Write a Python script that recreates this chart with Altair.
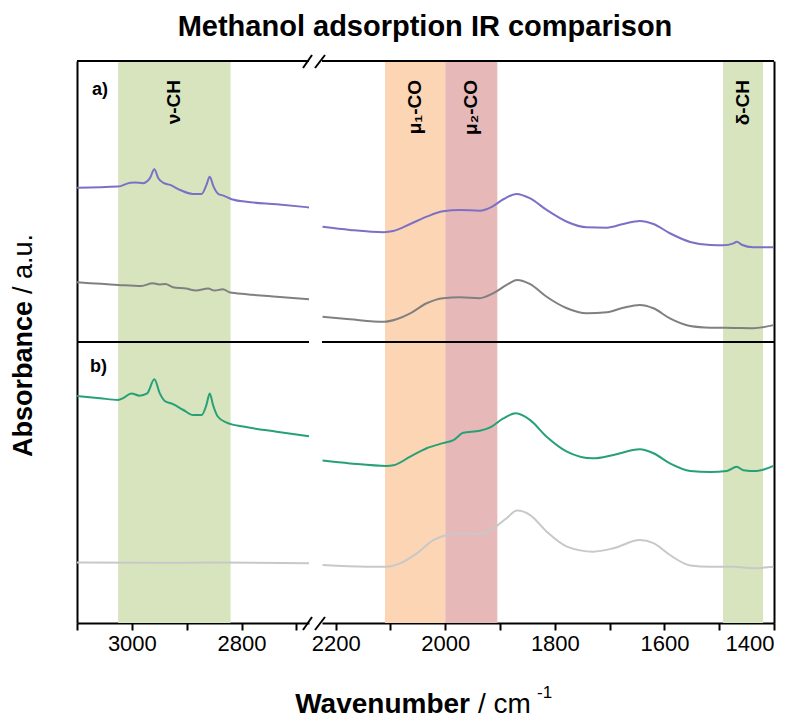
import altair as alt
import pandas as pd

FONT = "Liberation Sans"

# ---------------- data ----------------
left_domain = [2677, 3100]
right_domain = [1400, 2225]
left_ticks = [3100, 3000, 2900, 2800, 2700]
right_ticks = [2200, 2100, 2000, 1900, 1800, 1700, 1600, 1500, 1400]

band_labels = ["ν-CH", "μ₁-CO", "μ₂-CO", "δ-CH"]
band_start = [3025, 2110, 2000, 1493]
band_end = [2820, 2000, 1905, 1420]
band_colors = ["#D7E4BD", "#FCD5B5", "#E6B9B8", "#D7E4BD"]

series_names = ["a_methanol", "a_reference", "b_methanol", "b_reference"]
series_colors = ["#7B70C6", "#808080", "#26A077", "#C8C8C8"]

# panel a, methanol (purple)
a_meth_left_wn = [3100, 3025, 3003, 2994, 2980, 2967, 2959, 2952, 2943, 2930, 2912,
                  2889, 2873, 2864, 2858, 2851, 2842, 2833, 2818, 2791, 2736, 2677]
a_meth_left_val = [.549, .553, .567, .568, .565, .583, .615, .584, .567, .559, .541,
                   .527, .527, .559, .588, .553, .526, .521, .508, .499, .490, .479]
a_meth_right_wn = [2224, 2174, 2112, 2095, 2064, 2034, 2004, 1973, 1937, 1915, 1894,
                   1870, 1845, 1815, 1778, 1742, 1705, 1675, 1645, 1620, 1590, 1553,
                   1516, 1493, 1474, 1468, 1459, 1438, 1401]
a_meth_right_val = [.410, .399, .391, .395, .420, .446, .465, .470, .467, .481, .508,
                    .527, .511, .470, .428, .408, .407, .420, .431, .420, .387, .356,
                    .345, .344, .351, .357, .346, .337, .337]

# panel a, reference (gray)
a_ref_left_wn = [3100, 3025, 2983, 2962, 2950, 2939, 2925, 2901, 2883, 2861, 2849,
                 2834, 2822, 2791, 2736, 2677]
a_ref_left_val = [.2125, .203, .199, .209, .205, .206, .195, .190, .183, .190, .183,
                  .188, .177, .170, .161, .152]
a_ref_right_wn = [2224, 2174, 2112, 2089, 2064, 2034, 2004, 1973, 1937, 1913, 1888,
                  1869, 1845, 1815, 1778, 1742, 1705, 1675, 1645, 1620, 1590, 1553,
                  1516, 1474, 1438, 1401]
a_ref_right_val = [.090, .081, .072, .081, .102, .138, .156, .159, .156, .173, .203,
                   .221, .206, .161, .120, .102, .106, .122, .132, .120, .084, .057,
                   .051, .050, .049, .060]

# panel b, methanol (green)
b_meth_left_wn = [3100, 3058, 3025, 3016, 3001, 2986, 2972, 2959, 2949, 2940, 2925,
                  2906, 2888, 2873, 2864, 2858, 2852, 2843, 2827, 2797, 2736, 2677]
b_meth_left_val = [.808, .800, .794, .800, .817, .809, .817, .867, .817, .790, .779,
                   .758, .740, .740, .776, .817, .776, .734, .713, .699, .681, .665]
b_meth_right_wn = [2224, 2174, 2107, 2095, 2064, 2034, 2004, 1985, 1967, 1937, 1918,
                   1894, 1871, 1845, 1815, 1778, 1730, 1693, 1645, 1620, 1590, 1553,
                   1516, 1486, 1468, 1456, 1432, 1401]
b_meth_right_val = [.578, .568, .559, .561, .592, .622, .640, .651, .677, .684, .696,
                    .728, .746, .722, .663, .610, .586, .598, .618, .604, .568, .541,
                    .537, .541, .556, .544, .541, .559]

# panel b, reference (light gray)
b_ref_left_wn = [3100, 2960, 2850, 2677]
b_ref_left_val = [.215, .214, .215, .213]
b_ref_right_wn = [2224, 2143, 2107, 2083, 2052, 2022, 1997, 1973, 1937, 1912, 1888,
                  1869, 1845, 1815, 1778, 1730, 1693, 1645, 1620, 1590, 1553, 1516,
                  1474, 1438, 1401]
b_ref_right_val = [.206, .200, .200, .212, .248, .295, .313, .319, .317, .337, .373,
                   .400, .384, .325, .272, .254, .266, .295, .284, .242, .205, .200,
                   .200, .195, .200]

# ---------------- tables ----------------
rows = []


def add(name, seg, wn, val, offset):
    for w, v in zip(wn, val):
        rows.append({"wn": w, "absorb": v + offset, "series": name, "seg": seg})


add("a_methanol", "left", a_meth_left_wn, a_meth_left_val, 1.0)
add("a_methanol", "right", a_meth_right_wn, a_meth_right_val, 1.0)
add("a_reference", "left", a_ref_left_wn, a_ref_left_val, 1.0)
add("a_reference", "right", a_ref_right_wn, a_ref_right_val, 1.0)
add("b_methanol", "left", b_meth_left_wn, b_meth_left_val, 0.0)
add("b_methanol", "right", b_meth_right_wn, b_meth_right_val, 0.0)
add("b_reference", "left", b_ref_left_wn, b_ref_left_val, 0.0)
add("b_reference", "right", b_ref_right_wn, b_ref_right_val, 0.0)
spectra = pd.DataFrame(rows)

bands = pd.DataFrame({
    "label": band_labels,
    "start": band_start,
    "end": band_end,
    "color": band_colors,
})
bands["center"] = (bands["start"] + bands["end"]) / 2.0

one = pd.DataFrame({"k": [0]})

H = 562


def x_axis(ticks):
    return alt.Axis(values=ticks, title=None, grid=False,
                    labelExpr="datum.value % 200 === 0 ? format(datum.value, 'd') : ''")


def panel(seg, domain, width, ticks, orient):
    xscale = alt.Scale(domain=domain, reverse=True, nice=False, zero=False)
    yscale = alt.Scale(domain=[0, 2], nice=False, zero=False)
    yaxis = alt.Axis(orient=orient, labels=False, ticks=False, title=None, grid=False)
    if seg == "left":
        bsel = bands[bands["start"] > 2500]
        ssel = spectra[spectra["seg"] == "left"]
    else:
        bsel = bands[bands["start"] < 2500]
        ssel = spectra[spectra["seg"] == "right"]

    rects = alt.Chart(bsel).mark_rect().encode(
        x=alt.X("start:Q", scale=xscale, axis=x_axis(ticks)),
        x2="end:Q",
        color=alt.Color("color:N", scale=None),
    )
    labels = alt.Chart(bsel).mark_text(
        angle=270, align="right", baseline="middle", fontSize=19,
        fontWeight="bold", font=FONT, color="black"
    ).encode(
        x=alt.X("center:Q", scale=xscale, axis=x_axis(ticks)),
        y=alt.value(19),
        text="label:N",
    )
    lines = alt.Chart(ssel).mark_line(strokeWidth=2, interpolate="monotone").encode(
        x=alt.X("wn:Q", scale=xscale, axis=x_axis(ticks)),
        y=alt.Y("absorb:Q", scale=yscale, axis=yaxis),
        color=alt.Color("series:N", scale=alt.Scale(domain=series_names, range=series_colors), legend=None),
        order=alt.Order("wn:Q", sort="descending"),
    )
    divider = alt.Chart(one).mark_rule(color="black", strokeWidth=2).encode(y=alt.datum(1.0))
    top = alt.Chart(one).mark_rule(color="black", strokeWidth=2).encode(y=alt.datum(2.0))
    return alt.layer(rects, labels, lines, divider, top).properties(width=width, height=H)


left = panel("left", left_domain, 232, left_ticks, "left")
right = panel("right", right_domain, 452, right_ticks, "right")

# panel tags
tag_a = alt.Chart(one).mark_text(text="a)", fontSize=18, fontWeight="bold", font=FONT,
                                 align="left", baseline="middle", color="black").encode(
    x=alt.value(15), y=alt.value(29))
tag_b = alt.Chart(one).mark_text(text="b)", fontSize=18, fontWeight="bold", font=FONT,
                                 align="left", baseline="middle", color="black").encode(
    x=alt.value(13), y=alt.value(306))
# y title
ytitle_b = alt.Chart(one).mark_text(text="Absorbance", fontSize=27, fontWeight="bold", font=FONT,
                                    angle=270, align="right", baseline="middle", color="black").encode(
    x=alt.value(-53), y=alt.value(240))
ytitle_r = alt.Chart(one).mark_text(text="/ a.u.", fontSize=27, font=FONT,
                                    angle=270, align="left", baseline="middle", color="black").encode(
    x=alt.value(-53), y=alt.value(233))
left = alt.layer(left, tag_a, tag_b, ytitle_b, ytitle_r)


# break marks, title, x title on right panel
def slash(x1, x2, y1, y2):
    return alt.Chart(one).mark_rule(color="black", strokeWidth=2).encode(
        x=alt.value(x1), x2=alt.value(x2), y=alt.value(y1), y2=alt.value(y2))


marks = [slash(-19, -10, 7, -6), slash(-7, 3, 7, -6),
         slash(-19, -10, H + 7, H - 6), slash(-7, 3, H + 7, H - 6)]
title = alt.Chart(one).mark_text(text="Methanol adsorption IR comparison", fontSize=29,
                                 fontWeight="bold", font=FONT, align="center",
                                 baseline="middle", color="black").encode(
    x=alt.value(103), y=alt.value(-34))
xt_b = alt.Chart(one).mark_text(text="Wavenumber", fontSize=28, fontWeight="bold", font=FONT,
                                align="right", baseline="middle", color="black").encode(
    x=alt.value(148), y=alt.value(644))
xt_r = alt.Chart(one).mark_text(text="/ cm", fontSize=28, font=FONT,
                                align="left", baseline="middle", color="black").encode(
    x=alt.value(156), y=alt.value(644))
xt_s = alt.Chart(one).mark_text(text="-1", fontSize=17, font=FONT,
                                align="left", baseline="middle", color="black").encode(
    x=alt.value(215), y=alt.value(632))
right = alt.layer(right, *marks, title, xt_b, xt_r, xt_s)

chart = alt.hconcat(left, right, spacing=13, bounds="flush").properties(
    padding={"left": 2, "top": 5, "right": 5, "bottom": 5}
).configure_view(stroke=None).configure_axis(
    domainColor="black", domainWidth=2, tickColor="black", tickWidth=2, tickSize=7,
    labelFontSize=22, labelFont=FONT, labelColor="black", labelPadding=3, grid=False
)

chart.save("out.html", embed_options={"renderer": "svg", "actions": False})
